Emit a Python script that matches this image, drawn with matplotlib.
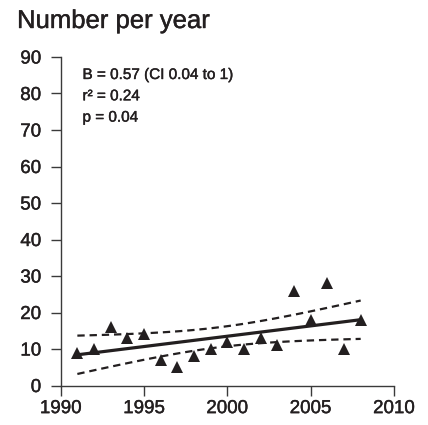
import matplotlib
matplotlib.use("Agg")
import matplotlib.pyplot as plt
import matplotlib.patheffects as pe
import numpy as np

# Data
years = [1991, 1992, 1993, 1994, 1995, 1996, 1997, 1998, 1999,
         2000, 2001, 2002, 2003, 2004, 2005, 2006, 2007, 2008]
counts = [9, 10, 16, 13, 14, 7, 5, 8, 10,
          12, 10, 13, 11, 26, 18, 28, 10, 18]
x_ticks = [1990, 1995, 2000, 2005, 2010]
y_ticks = [0, 10, 20, 30, 40, 50, 60, 70, 80, 90]
stats_lines = ["B = 0.57 (CI 0.04 to 1)", "r² = 0.24", "p = 0.04"]
t_crit = 2.12  # t(0.975, df=16)

plt.rcParams['font.family'] = ['Liberation Sans', 'DejaVu Sans']
ink = '#231f20'
# slightly heavier text, like a medium weight
heavy = [pe.withStroke(linewidth=0.3, foreground=ink)]

# Least squares fit and 95% confidence band of the mean
x = np.array(years, dtype=float)
y = np.array(counts, dtype=float)
slope, intercept = np.polyfit(x, y, 1)
xs = np.linspace(x.min(), x.max(), 100)
fit = slope * xs + intercept
resid = y - (slope * x + intercept)
s = np.sqrt(np.sum(resid ** 2) / (len(x) - 2))
sxx = np.sum((x - x.mean()) ** 2)
half = t_crit * s * np.sqrt(1 / len(x) + (xs - x.mean()) ** 2 / sxx)

fig = plt.figure(figsize=(4.28, 4.25), dpi=100)
ax = fig.add_axes([0.1418, 0.0929, 0.7788, 0.773])

ax.plot(xs, fit, color=ink, lw=2.3, solid_capstyle='butt')
ax.plot(xs, fit + half, color=ink, lw=1.6, dashes=(3.3, 2.2))
ax.plot(xs, fit - half, color=ink, lw=1.6, dashes=(3.3, 2.2))
ax.plot(years, counts, linestyle='none', marker='^', ms=8.5, color=ink,
        markeredgewidth=0, clip_on=False)

ax.set_xlim(1990, 2010)
ax.set_ylim(0, 90)
ax.set_xticks(x_ticks)
ax.set_yticks(y_ticks)
ax.tick_params(direction='out', length=7.5, width=1, colors='#3a3a3a',
               labelcolor=ink, labelsize=13.5)
ax.tick_params(axis='y', pad=6.5)
ax.tick_params(axis='x', pad=3)
for lab in ax.get_xticklabels() + ax.get_yticklabels():
    lab.set_path_effects(heavy)
for side in ['top', 'right']:
    ax.spines[side].set_visible(False)
for side in ['left', 'bottom']:
    ax.spines[side].set_linewidth(1)
    ax.spines[side].set_color('#3a3a3a')

# Regression stats
for i, line in enumerate(stats_lines):
    fig.text(82.5 / 428, 1 - (79 + 21.3 * i) / 425, line, fontsize=11,
             color=ink, va='baseline', ha='left', path_effects=heavy)

fig.text(17 / 428, 1 - 28 / 425, "Number per year", fontsize=18.5,
         color=ink, va='baseline', ha='left', path_effects=heavy)

plt.savefig("out.png", dpi=100)
